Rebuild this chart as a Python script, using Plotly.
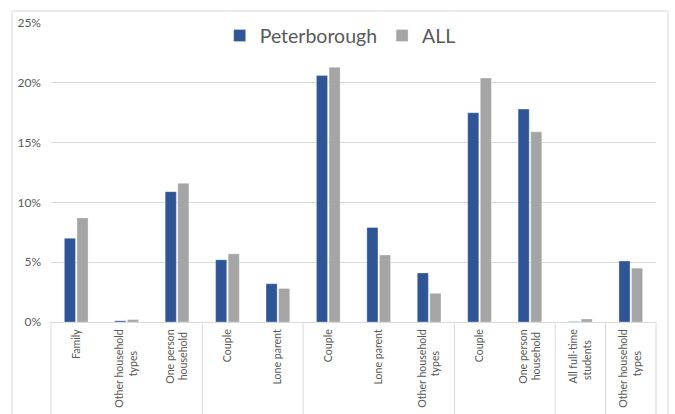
import plotly.graph_objects as go

# Household composition categories, in axis order (one list entry per label line)
category_lines = [
    ["Family"], ["Other household", "types"], ["One person", "household"],
    ["Couple"], ["Lone parent"],
    ["Couple"], ["Lone parent"], ["Other household", "types"],
    ["Couple"], ["One person", "household"],
    ["All full-time", "students"],
    ["Other household", "types"],
]
# how many categories fall under each higher-level group
group_sizes = [3, 2, 3, 2, 1, 1]

peterborough = [7.0, 0.1, 10.9, 5.2, 3.2, 20.6, 7.9, 4.1, 17.5, 17.8, 0.03, 5.1]
all_areas = [8.7, 0.2, 11.6, 5.7, 2.8, 21.3, 5.6, 2.4, 20.4, 15.9, 0.25, 4.5]

y_ticks = [0, 5, 10, 15, 20, 25]
y_tick_text = [f"{v}%" for v in y_ticks]

BLUE = "#2F5597"
GREY = "#A5A5A5"
LINE = "#D9D9D9"
TEXT = "#595959"
FONT = "Lato"


def centred_label(lines):
    """Join label lines; pad short lines with no-break spaces so the
    end-anchored rotated tick text reads as centred."""
    longest = max(len(s) for s in lines)
    out = []
    for s in lines:
        pad = round((longest - len(s)) * 0.8)
        out.append(s + "\u00a0" * pad)
    return "<br>".join(out)


tick_text = [centred_label(lines) for lines in category_lines]
x = list(range(len(category_lines)))

fig = go.Figure()
fig.add_bar(x=x, y=peterborough, name="Peterborough", marker_color=BLUE,
            marker_line=dict(color="rgba(255,255,255,0.5)", width=0.6))
fig.add_bar(x=x, y=all_areas, name="ALL", marker_color=GREY,
            marker_line=dict(color="rgba(255,255,255,0.5)", width=0.6))

shapes = []
# group dividers running down through the category labels
bound = -0.5
for size in group_sizes[:-1]:
    bound += size
    shapes.append(dict(type="line", xref="x", yref="paper", x0=bound, x1=bound,
                       y0=0, y1=-0.45, line=dict(color=LINE, width=1)))
for edge in (0, 1):
    shapes.append(dict(type="line", xref="x domain", yref="paper", x0=edge, x1=edge,
                       y0=0, y1=-0.45, line=dict(color=LINE, width=1)))
# chart frame
shapes.append(dict(type="rect", xref="paper", yref="paper", x0=-0.0645, x1=1.0198,
                   y0=-0.45, y1=1.040, line=dict(color=LINE, width=1),
                   fillcolor="rgba(0,0,0,0)", layer="below"))

fig.update_layout(
    width=675, height=414,
    margin=dict(l=51, r=19, t=23, b=92, autoexpand=False),
    paper_bgcolor="white", plot_bgcolor="white",
    barmode="group", bargap=0.5, bargroupgap=0.12,
    font=dict(family=FONT, color=TEXT, size=12),
    showlegend=True,
    legend=dict(orientation="h", x=0.478, xanchor="center", y=1.022, yanchor="top",
                bgcolor="white", font=dict(size=19.5, color=TEXT, family=FONT),
                itemwidth=30, tracegroupgap=0),
    shapes=shapes,
    xaxis=dict(range=[-0.5, len(category_lines) - 0.5], tickmode="array",
               tickvals=x, ticktext=tick_text, tickangle=-90,
               showgrid=False, showline=True, linecolor=LINE, linewidth=1,
               ticks="", zeroline=False, ticklabelstandoff=2, automargin=False,
               tickfont=dict(size=10.6, color=TEXT, family=FONT)),
    yaxis=dict(range=[0, 25], tickmode="array", tickvals=y_ticks, ticktext=y_tick_text,
               showgrid=True, gridcolor=LINE, gridwidth=1, zeroline=False,
               showline=False, ticks="", ticklabelstandoff=9, automargin=False,
               tickfont=dict(size=12, color=TEXT, family=FONT)),
)

fig.write_html("out.html")
